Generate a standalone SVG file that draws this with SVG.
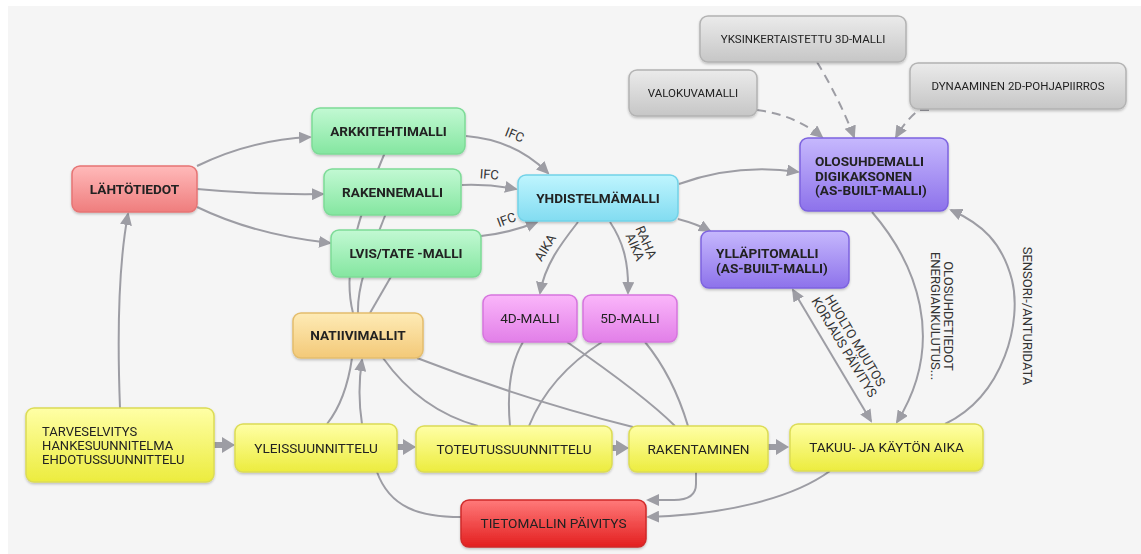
<svg xmlns="http://www.w3.org/2000/svg" width="1141" height="554" viewBox="0 0 1141 554">
<style>
.t{font-family:Roboto,"Liberation Sans",sans-serif;font-size:13.6px;fill:#222;}
.b{font-weight:bold;}
.s{font-size:11.5px;}
.m{font-size:13px;}
.lbl{font-family:Roboto,"Liberation Sans",sans-serif;font-size:13px;fill:#333;}
.e{fill:none;stroke:#9d9da4;stroke-width:2;}
.d{fill:none;stroke:#9d9da4;stroke-width:2;stroke-dasharray:9 6;}
.q{fill:none;stroke:#9d9da4;stroke-width:6;}
.n rect{stroke-width:1.5;}
</style>
<defs>
<marker id="a" markerUnits="userSpaceOnUse" markerWidth="13" markerHeight="12" refX="11" refY="6" orient="auto"><path d="M0,0 L13,6 L0,12 z" fill="#9d9da4"/></marker>
<marker id="as" markerUnits="userSpaceOnUse" markerWidth="13" markerHeight="12" refX="11" refY="6" orient="auto-start-reverse"><path d="M0,0 L13,6 L0,12 z" fill="#9d9da4"/></marker>
<marker id="big" markerUnits="userSpaceOnUse" markerWidth="13" markerHeight="16" refX="0" refY="8" orient="auto"><path d="M0,0 L13,8 L0,16 z" fill="#9d9da4"/></marker>
<linearGradient id="gr1" x1="0" y1="0" x2="0" y2="1"><stop offset="0" stop-color="#ffbaba"/><stop offset="1" stop-color="#ef7d7d"/></linearGradient>
<linearGradient id="gg" x1="0" y1="0" x2="0" y2="1"><stop offset="0" stop-color="#c2f9d3"/><stop offset="1" stop-color="#84e6a0"/></linearGradient>
<linearGradient id="gc" x1="0" y1="0" x2="0" y2="1"><stop offset="0" stop-color="#bff5fe"/><stop offset="1" stop-color="#82dcf1"/></linearGradient>
<linearGradient id="gp" x1="0" y1="0" x2="0" y2="1"><stop offset="0" stop-color="#c6b8fd"/><stop offset="1" stop-color="#8d72eb"/></linearGradient>
<linearGradient id="gy" x1="0" y1="0" x2="0" y2="1"><stop offset="0" stop-color="#ebebeb"/><stop offset="1" stop-color="#c6c6c6"/></linearGradient>
<linearGradient id="gk" x1="0" y1="0" x2="0" y2="1"><stop offset="0" stop-color="#fab6fa"/><stop offset="1" stop-color="#e27fe8"/></linearGradient>
<linearGradient id="go" x1="0" y1="0" x2="0" y2="1"><stop offset="0" stop-color="#feebb6"/><stop offset="1" stop-color="#f3c978"/></linearGradient>
<linearGradient id="gl" x1="0" y1="0" x2="0" y2="1"><stop offset="0" stop-color="#ffffa6"/><stop offset="1" stop-color="#ecec3e"/></linearGradient>
<linearGradient id="gr2" x1="0" y1="0" x2="0" y2="1"><stop offset="0" stop-color="#ff7a7a"/><stop offset="1" stop-color="#e31e1e"/></linearGradient>
<filter id="sh" x="-10%" y="-20%" width="120%" height="150%"><feDropShadow dx="0" dy="1.5" stdDeviation="1.2" flood-color="#000" flood-opacity="0.22"/></filter>
</defs>
<rect x="0" y="0" width="1141" height="554" fill="#ffffff"/>
<rect x="8" y="6" width="1133" height="548" fill="#f5f5f5"/>

<g id="connectors">
<path class="e" d="M197,166 Q250,140 310,137" marker-end="url(#a)"/>
<path class="e" d="M197,189 Q260,195 323,194" marker-end="url(#a)"/>
<path class="e" d="M197,207 Q255,235 330,243" marker-end="url(#a)"/>
<path class="e" d="M120,408 C117,330 119,262 128,214" marker-end="url(#a)"/>
<path class="e" d="M466,136 Q515,140 548,173" marker-end="url(#a)"/>
<path class="e" d="M462,185 Q490,184 516,189" marker-end="url(#a)"/>
<path class="e" d="M481,236 Q510,233 537,222" marker-end="url(#a)"/>
<path class="e" d="M679,184 Q737,163 798,172" marker-end="url(#a)"/>
<path class="e" d="M678,219 Q697,224 710,231" marker-end="url(#a)"/>
<path class="e" d="M578,222 C560,245 545,265 540,293" marker-end="url(#a)"/>
<path class="e" d="M610,222 C622,240 629,260 628,293" marker-end="url(#a)"/>
<path class="d" d="M757,110 Q795,115 822,137" marker-end="url(#a)"/>
<path class="d" d="M817,62 Q840,100 854,137" marker-end="url(#a)"/>
<path class="d" d="M929,110 L919,110 Q906,120 896,137" marker-end="url(#a)"/>
<path class="e" d="M872,212 C915,262 948,340 897,422" marker-end="url(#a)"/>
<path class="e" d="M945,424 C1005,395 1022,320 1012,280 C1002,242 982,224 951,210" marker-end="url(#a)"/>
<path class="e" d="M793,290 L871,421" marker-start="url(#as)" marker-end="url(#a)"/>
<path class="e" d="M386,150 C365,200 340,262 353,313"/>
<path class="e" d="M388,208 C372,250 357,282 358,313"/>
<path class="e" d="M396,268 L370,313"/>
<path class="e" d="M352,358 Q346,400 327,424"/>
<path class="e" d="M362,424 Q357,392 362,360" marker-end="url(#a)"/>
<path class="e" d="M383,358 Q420,410 478,426"/>
<path class="e" d="M417,358 Q525,400 633,427"/>
<path class="e" d="M523,342 Q505,372 510,426"/>
<path class="e" d="M602,342 Q549,376 529,426"/>
<path class="e" d="M567,342 Q645,396 675,426"/>
<path class="e" d="M645,342 Q673,376 688,426"/>
<path class="q" d="M214,445 L222,445" marker-end="url(#big)"/>
<path class="q" d="M397,447 L403,447" marker-end="url(#big)"/>
<path class="q" d="M612,448 L616,448" marker-end="url(#big)"/>
<path class="q" d="M768,447 L776,447" marker-end="url(#big)"/>
<path class="e" d="M377,472 C390,508 420,517 461,517"/>
<path class="e" d="M696,472 L696,484 Q696,500 674,500 L648,500" marker-end="url(#a)"/>
<path class="e" d="M830,471 C790,500 720,515 648,517" marker-end="url(#a)"/>
<text class="lbl" transform="translate(513,139) rotate(22)" text-anchor="middle">IFC</text>
<text class="lbl" transform="translate(489,179) rotate(4)" text-anchor="middle">IFC</text>
<text class="lbl" transform="translate(508,224) rotate(-20)" text-anchor="middle">IFC</text>
<text class="lbl" transform="translate(549,250) rotate(-58)" text-anchor="middle">AIKA</text>
<text class="lbl" transform="translate(642,244) rotate(67)" text-anchor="middle"><tspan x="0" y="0">RAHA</tspan><tspan x="0" y="12">AIKA</tspan></text>
<text class="lbl" transform="translate(848,345) rotate(59)" text-anchor="middle"><tspan x="0" y="-4">HUOLTO MUUTOS</tspan><tspan x="0" y="9">KORJAUS PÄIVITYS</tspan></text>
<text class="lbl" transform="translate(940,316) rotate(90)" text-anchor="middle"><tspan x="0" y="-4">OLOSUHDETIEDOT</tspan><tspan x="0" y="9">ENERGIANKULUTUS...</tspan></text>
<text class="lbl" transform="translate(1027,316) rotate(90)" text-anchor="middle" dy="4">SENSORI-/ANTURIDATA</text>
</g>

<g id="lahtotiedot" class="n" filter="url(#sh)"><rect x="72" y="166" width="125" height="46" rx="8" fill="url(#gr1)" stroke="#e67474"/><text class="t b" x="134.5" y="193.5" text-anchor="middle">LÄHTÖTIEDOT</text></g>
<g id="arkkitehtimalli" class="n" filter="url(#sh)"><rect x="312" y="108" width="153" height="46" rx="8" fill="url(#gg)" stroke="#7ddb97"/><text class="t b" x="388.5" y="135.5" text-anchor="middle">ARKKITEHTIMALLI</text></g>
<g id="rakennemalli" class="n" filter="url(#sh)"><rect x="324" y="169" width="137" height="46" rx="8" fill="url(#gg)" stroke="#7ddb97"/><text class="t b" x="392.5" y="196.5" text-anchor="middle">RAKENNEMALLI</text></g>
<g id="lvis" class="n" filter="url(#sh)"><rect x="331" y="230" width="150" height="47" rx="8" fill="url(#gg)" stroke="#7ddb97"/><text class="t b" x="406" y="258" text-anchor="middle">LVIS/TATE -MALLI</text></g>
<g id="yhdistelmamalli" class="n" filter="url(#sh)"><rect x="518" y="175" width="160" height="46" rx="8" fill="url(#gc)" stroke="#72d2e8"/><text class="t b" x="598" y="202.5" text-anchor="middle">YHDISTELMÄMALLI</text></g>
<g id="olosuhdemalli" class="n" filter="url(#sh)"><rect x="800" y="138" width="148" height="73" rx="8" fill="url(#gp)" stroke="#7d63df"/><text class="t b"><tspan x="815" y="166">OLOSUHDEMALLI</tspan><tspan x="815" y="180.5">DIGIKAKSONEN</tspan><tspan x="815" y="195">(AS-BUILT-MALLI)</tspan></text></g>
<g id="yllapitomalli" class="n" filter="url(#sh)"><rect x="701" y="231" width="148" height="57" rx="8" fill="url(#gp)" stroke="#7d63df"/><text class="t b"><tspan x="716" y="258">YLLÄPITOMALLI</tspan><tspan x="716" y="272.5">(AS-BUILT-MALLI)</tspan></text></g>
<g id="valokuvamalli" class="n" filter="url(#sh)"><rect x="629" y="70" width="128" height="46" rx="8" fill="url(#gy)" stroke="#b3b3b3"/><text class="t s" x="693" y="97" text-anchor="middle">VALOKUVAMALLI</text></g>
<g id="yksinkertaistettu" class="n" filter="url(#sh)"><rect x="700" y="16" width="206" height="46" rx="8" fill="url(#gy)" stroke="#b3b3b3"/><text class="t s" x="803" y="43" text-anchor="middle">YKSINKERTAISTETTU 3D-MALLI</text></g>
<g id="dynaaminen" class="n" filter="url(#sh)"><rect x="910" y="63" width="216" height="46" rx="8" fill="url(#gy)" stroke="#b3b3b3"/><text class="t s" x="1018" y="90" text-anchor="middle">DYNAAMINEN 2D-POHJAPIIRROS</text></g>
<g id="malli4d" class="n" filter="url(#sh)"><rect x="483" y="295" width="94" height="47" rx="8" fill="url(#gk)" stroke="#d675de"/><text class="t" x="530" y="323" text-anchor="middle">4D-MALLI</text></g>
<g id="malli5d" class="n" filter="url(#sh)"><rect x="583" y="295" width="94" height="47" rx="8" fill="url(#gk)" stroke="#d675de"/><text class="t" x="630" y="323" text-anchor="middle">5D-MALLI</text></g>
<g id="natiivimallit" class="n" filter="url(#sh)"><rect x="293" y="313" width="130" height="45" rx="8" fill="url(#go)" stroke="#e4bd6c"/><text class="t b" x="358" y="340" text-anchor="middle">NATIIVIMALLIT</text></g>
<g id="tarveselvitys" class="n" filter="url(#sh)"><rect x="26" y="408" width="188" height="74" rx="8" fill="url(#gl)" stroke="#dcdc55"/><text class="t m"><tspan x="42" y="436">TARVESELVITYS</tspan><tspan x="42" y="450">HANKESUUNNITELMA</tspan><tspan x="42" y="464">EHDOTUSSUUNNITTELU</tspan></text></g>
<g id="yleissuunnittelu" class="n" filter="url(#sh)"><rect x="235" y="424" width="162" height="48" rx="8" fill="url(#gl)" stroke="#dcdc55"/><text class="t" x="316" y="452.5" text-anchor="middle">YLEISSUUNNITTELU</text></g>
<g id="toteutussuunnittelu" class="n" filter="url(#sh)"><rect x="416" y="426" width="196" height="46" rx="8" fill="url(#gl)" stroke="#dcdc55"/><text class="t" x="514" y="453.5" text-anchor="middle">TOTEUTUSSUUNNITTELU</text></g>
<g id="rakentaminen" class="n" filter="url(#sh)"><rect x="629" y="426" width="139" height="46" rx="8" fill="url(#gl)" stroke="#dcdc55"/><text class="t" x="698.5" y="453.5" text-anchor="middle">RAKENTAMINEN</text></g>
<g id="takuu" class="n" filter="url(#sh)"><rect x="790" y="424" width="193" height="47" rx="8" fill="url(#gl)" stroke="#dcdc55"/><text class="t" x="886.5" y="451.5" text-anchor="middle">TAKUU- JA KÄYTÖN AIKA</text></g>
<g id="tietomallin" class="n" filter="url(#sh)"><rect x="461" y="500" width="185" height="47" rx="8" fill="url(#gr2)" stroke="#d02a2a"/><text class="t" x="553.5" y="528" text-anchor="middle">TIETOMALLIN PÄIVITYS</text></g>
</svg>
